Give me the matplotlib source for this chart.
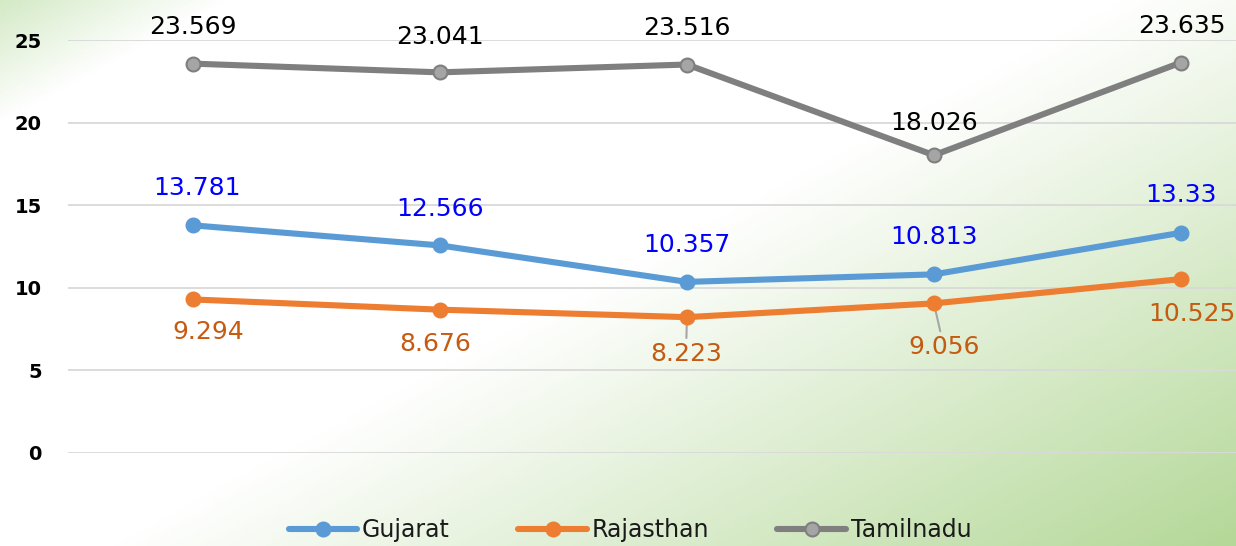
import matplotlib.pyplot as plt
import numpy as np

# data
years = ['1', '2', '3', '4', '5']
gujarat = [13.781, 12.566, 10.357, 10.813, 13.33]
rajasthan = [9.294, 8.676, 8.223, 9.056, 10.525]
tamilnadu = [23.569, 23.041, 23.516, 18.026, 23.635]
yticks = [0, 5, 10, 15, 20, 25]

W, H = 1236, 546
fig = plt.figure(figsize=(W / 100, H / 100), dpi=100)

# background gradient (green top-left, white band, green bottom-right)
bg = fig.add_axes([0, 0, 1, 1], zorder=-2)
xx, yy = np.meshgrid(np.linspace(0, 1, 400), np.linspace(0, 1, 180))
s = 0.55 * xx + 0.45 * yy
stops = [0, 0.1, 0.5, 1.0]
c0 = np.array([0xd4, 0xea, 0xc6]) / 255
c1 = np.array([1.0, 1.0, 1.0])
c2 = np.array([0xb4, 0xd8, 0x98]) / 255
img = np.zeros(s.shape + (3,))
for k in range(3):
    img[..., k] = np.interp(s, stops, [c0[k], c1[k], c1[k], c2[k]])
bg.imshow(img, aspect='auto', extent=[0, 1, 0, 1], origin='upper')
bg.axis('off')

# main axes: left edge at x=68px, y=0 at 453px, y=25 at 40px
ax = fig.add_axes([68 / W, (H - 453) / H, 1 - 68 / W, (453 - 40) / H])
ax.set_facecolor('none')
x = np.arange(len(years))
ax.set_xlim(-0.506, 4.223)
ax.set_ylim(0, 25)
ax.set_yticks(yticks)
ax.set_xticks([])
ax.tick_params(axis='y', length=0, pad=19, labelsize=14)
for t in ax.get_yticklabels():
    t.set_fontweight('bold')
for sp in ax.spines.values():
    sp.set_visible(False)
ax.grid(axis='y', color='#d9d9d9', lw=1.3)
ax.set_axisbelow(True)

series = [
    ('Gujarat', gujarat, '#5b9bd5', '#5b9bd5', '#5b9bd5', '#0000ff'),
    ('Rajasthan', rajasthan, '#ed7d31', '#ed7d31', '#ed7d31', '#c55a11'),
    ('Tamilnadu', tamilnadu, '#7f7f7f', '#a5a5a5', '#7f7f7f', '#000000'),
]
# label offsets in pixels (dx, dy), dy positive = up
offsets = {
    'Gujarat': [(4, 37), (0, 36), (0, 37), (0, 37), (0, 38)],
    'Rajasthan': [(15, -33), (-5, -34), (-1, -37), (10, -44), (11, -35)],
    'Tamilnadu': [(0, 37), (0, 35), (0, 37), (0, 32), (1, 37)],
}
leaders = {('Rajasthan', 2), ('Rajasthan', 3)}

for name, vals, lc, mfc, mec, tc in series:
    ax.plot(x, vals, color=lc, lw=4.4, marker='o', ms=10, mfc=mfc, mec=mec,
            mew=1.5, label=name, solid_capstyle='round', zorder=3)
    for i, v in enumerate(vals):
        dx, dy = offsets[name][i]
        ap = None
        if (name, i) in leaders:
            ap = dict(arrowstyle='-', color='#a6a6a6', lw=1.5, shrinkA=1, shrinkB=0)
        ax.annotate(f'{v:g}', (x[i], v), xytext=(dx * 0.72, dy * 0.72),
                    textcoords='offset points', ha='center', va='center',
                    fontsize=18, color=tc, arrowprops=ap, zorder=2)

leg = fig.legend(loc='center', bbox_to_anchor=(630 / W, 16 / H), ncol=3,
                 frameon=False, fontsize=17, handlelength=2.9,
                 handletextpad=0.2, columnspacing=2.9, borderaxespad=0)
for t in leg.get_texts():
    t.set_color('#1a1a1a')

fig.savefig('out.png', dpi=100)
